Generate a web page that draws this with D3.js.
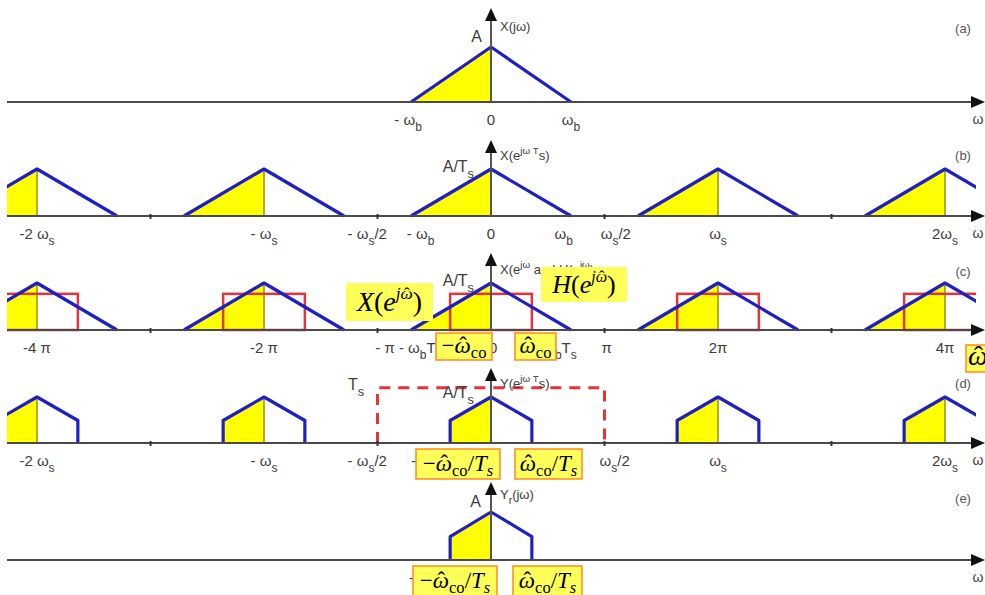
<!DOCTYPE html>
<html>
<head>
<meta charset="utf-8">
<script src="https://cdn.jsdelivr.net/npm/d3@7"></script>
<style>
  body { margin: 0; background: #fff; }
  svg { display: block; }
  text { white-space: pre; }
  .lbl { font-family: 'Liberation Sans', Arial, sans-serif; fill: #3c3c3c; }
  .math { font-family: 'Liberation Serif', 'Times New Roman', serif; fill: #000; }
</style>
</head>
<body>
<script>
var w = 985, h = 595;

// frequencies are in units of pi (normalised w-hat); w_s <-> 2 pi
var replicaCentres = [-4, -2, 0, 2, 4];
var bandEdge = 0.705;     // w_b * T_s / pi
var cutoff = 0.36;        // w_co / pi
var filterLevel = 0.77;   // height of H(e^jw) box relative to the peak
var reconLevel = 1.2;     // T_s gain of the reconstruction filter
var halfTicks = [-3, -1, 1, 3];

// tick labels per panel (value in pi units, text with _{sub})
var ticksA = [{v: -0.73, t: '- ω_{b}'}, {v: 0, t: '0'}, {v: 0.705, t: 'ω_{b}'}];
var ticksB = [{v: -4, t: '-2 ω_{s}'}, {v: -2, t: '- ω_{s}'}, {v: -1.09, t: '- ω_{s}/2'},
  {v: -0.62, t: '- ω_{b}'}, {v: 0, t: '0'}, {v: 0.64, t: 'ω_{b}'}, {v: 1.1, t: 'ω_{s}/2'},
  {v: 2, t: 'ω_{s}'}, {v: 4, t: '2ω_{s}'}];
var ticksC = [{v: -4, t: '-4 π'}, {v: -2, t: '-2 π'}, {v: -1.02, t: '- π - ω_{b}T_{s}', a: 'start'},
  {v: 0.02, t: '0'}, {v: 0.46, t: 'ω_{b}T_{s}', a: 'start'}, {v: 1.02, t: 'π'},
  {v: 2, t: '2π'}, {v: 4, t: '4π'}];
var ticksD = [{v: -4, t: '-2 ω_{s}'}, {v: -2, t: '- ω_{s}'}, {v: -1.09, t: '- ω_{s}/2'},
  {v: -0.68, t: '-'}, {v: 1.09, t: 'ω_{s}/2'}, {v: 2, t: 'ω_{s}'}, {v: 4, t: '2ω_{s}'}];
var ticksE = [{v: -0.7, t: '-'}];

// panel layout (pixels)
var panels = [
  {key: 'a', axisY: 102, top: 8,   peak: 55, ticks: ticksA, kind: 'single',
   amp: 'A', ampX: 482, ampY: 42, fn: 'X(jω)', fnY: 31, tagY: 33, omega: true},
  {key: 'b', axisY: 216, top: 140, peak: 47, ticks: ticksB, kind: 'replicas', halfTicks: true,
   amp: 'A/T_{s}', ampX: 474, ampY: 172, fn: 'X(e^{jω T}s)', fnY: 160, tagY: 160, omega: true},
  {key: 'c', axisY: 330, top: 253, peak: 47, ticks: ticksC, kind: 'filtered', halfTicks: true,
   amp: 'A/T_{s}', ampX: 474, ampY: 286, fn: 'X(e^{jω} and H(e^{jω})', fnY: 274, tagY: 276, omega: false},
  {key: 'd', axisY: 443, top: 368, peak: 46, ticks: ticksD, kind: 'cut', halfTicks: true, recon: true,
   amp: 'A/T_{s}', ampX: 474, ampY: 398, fn: 'Y(e^{jω T}s)', fnY: 388, tagY: 388, omega: true},
  {key: 'e', axisY: 560, top: 482, peak: 48, ticks: ticksE, kind: 'cutSingle',
   amp: 'A', ampX: 481, ampY: 507, fn: 'Y_{r}(jω)', fnY: 499, tagY: 503, omega: true}
];

var blue = '#1f1fc4', yellow = '#ffff00', red = '#e3343a', olive = '#9a9a10';

var x = d3.scaleLinear().domain([-4, 4]).range([37, 945]);

var svg = d3.select('body').append('svg')
  .attr('width', w).attr('height', h)
  .attr('viewBox', [0, 0, w, h]);

svg.append('defs').append('clipPath').attr('id', 'clip')
  .append('rect').attr('x', 7).attr('y', 0).attr('width', 969).attr('height', h);

var line = d3.line();

// text with _{sub} and ^{sup} parts
function rich(g, px, py, str, size, anchor, cls) {
  var t = g.append('text').attr('class', cls || 'lbl')
    .attr('x', px).attr('y', py)
    .attr('text-anchor', anchor || 'middle')
    .style('font-size', size + 'px');
  var shift = 0;
  str.split(/(_\{[^}]*\}|\^\{[^}]*\})/).forEach(function(p) {
    if (!p) return;
    var target = 0, txt = p, fs = size;
    if (p[0] === '_') { target = size * 0.4; txt = p.slice(2, -1); fs = size * 0.8; }
    else if (p[0] === '^') { target = -size * 0.45; txt = p.slice(2, -1); fs = size * 0.75; }
    t.append('tspan').attr('dy', target - shift).style('font-size', fs + 'px').text(txt);
    shift = target;
  });
  return t;
}

panels.forEach(function(p) {
  var y = d3.scaleLinear().domain([0, 1]).range([p.axisY, p.axisY - p.peak]);
  var g = svg.append('g').attr('class', 'panel-' + p.key);
  var marks = g.append('g').attr('clip-path', 'url(#clip)');

  var centres = (p.kind === 'single' || p.kind === 'cutSingle') ? [0] : replicaCentres;
  var cutH = 1 - cutoff / bandEdge;

  centres.forEach(function(c) {
    var fill, outline;
    if (p.kind === 'cut' || p.kind === 'cutSingle') {
      fill = [[c - cutoff, 0], [c - cutoff, cutH], [c, 1], [c, 0]];
      outline = [[c - cutoff, 0], [c - cutoff, cutH], [c, 1], [c + cutoff, cutH], [c + cutoff, 0]];
    } else {
      fill = [[c - bandEdge, 0], [c, 1], [c, 0]];
      outline = [[c - bandEdge, 0], [c, 1], [c + bandEdge, 0]];
    }
    var toPx = function(d) { return [x(d[0]), y(d[1])]; };

    marks.append('path')
      .attr('d', line(fill.map(toPx)) + 'Z')
      .attr('fill', yellow);

    marks.append('line')
      .attr('x1', x(c)).attr('x2', x(c))
      .attr('y1', y(0)).attr('y2', y(1))
      .attr('stroke', olive).attr('stroke-width', 1.6);

    if (p.kind === 'filtered') {
      marks.append('rect')
        .attr('x', x(c - cutoff)).attr('y', y(filterLevel))
        .attr('width', x(c + cutoff) - x(c - cutoff))
        .attr('height', y(0) - y(filterLevel))
        .attr('fill', 'none').attr('stroke', red).attr('stroke-width', 2.5);
    }

    marks.append('path')
      .attr('d', line(outline.map(toPx)))
      .attr('fill', 'none').attr('stroke', blue)
      .attr('stroke-width', 3.2).attr('stroke-linejoin', 'round');
  });

  // reconstruction filter (dashed)
  if (p.recon) {
    g.append('path')
      .attr('d', line([[x(-1), y(0)], [x(-1), y(reconLevel)], [x(1), y(reconLevel)], [x(1), y(0)]]))
      .attr('fill', 'none').attr('stroke', red)
      .attr('stroke-width', 3).attr('stroke-dasharray', '11,8');
    rich(g, 356, 390, 'T_{s}', 16, 'middle');
  }

  // horizontal axis with arrow
  g.append('line')
    .attr('x1', 7).attr('x2', 975)
    .attr('y1', p.axisY).attr('y2', p.axisY)
    .attr('stroke', '#4a4a4a').attr('stroke-width', 2);
  g.append('path')
    .attr('d', line([[971, p.axisY - 6], [985, p.axisY], [971, p.axisY + 6]]) + 'Z')
    .attr('fill', '#111');

  if (p.halfTicks) {
    g.selectAll('.ht').data(halfTicks).enter().append('line')
      .attr('x1', function(d) { return x(d); }).attr('x2', function(d) { return x(d); })
      .attr('y1', p.axisY - 2).attr('y2', p.axisY + 3)
      .attr('stroke', '#333').attr('stroke-width', 2);
  }

  // vertical axis with arrow
  g.append('line')
    .attr('x1', x(0)).attr('x2', x(0))
    .attr('y1', p.axisY).attr('y2', p.top + 10)
    .attr('stroke', '#555').attr('stroke-width', 2);
  g.append('path')
    .attr('d', line([[x(0) - 6, p.top + 13], [x(0), p.top], [x(0) + 6, p.top + 13]]) + 'Z')
    .attr('fill', '#111');

  // labels
  p.ticks.forEach(function(d) {
    rich(g, x(d.v), p.axisY + 23, d.t, 15, d.a || 'middle');
  });
  rich(g, p.ampX, p.ampY, p.amp, 16, 'end');
  rich(g, 500, p.fnY, p.fn, 13, 'start');
  g.append('text').attr('class', 'lbl')
    .attr('x', 963).attr('y', p.tagY)
    .attr('text-anchor', 'middle')
    .style('font-size', '13px').style('fill', '#555')
    .text('(' + p.key + ')');
  if (p.omega) {
    g.append('text').attr('class', 'lbl')
      .attr('x', 978).attr('y', p.axisY + 22)
      .attr('text-anchor', 'middle')
      .style('font-size', '14px')
      .text('ω');
  }
});

// math call-out boxes (yellow), pixel layout; 'w' = omega with a hat
var boxes = [
  {x: 346, y: 283, w: 87, h: 38, size: 28, border: false,
   segs: [['X', 'i'], ['(', 'r'], ['e', 'i'], ['j', 'sup'], ['w', 'sup'], [')', 'r']]},
  {x: 541, y: 267, w: 86, h: 35, size: 26, border: false,
   segs: [['H', 'i'], ['(', 'r'], ['e', 'i'], ['j', 'sup'], ['w', 'sup'], [')', 'r']]},
  {x: 436, y: 333, w: 56, h: 27, size: 23, border: true,
   segs: [['−', 'r'], ['w', 'i'], ['co', 'sub']]},
  {x: 515, y: 333, w: 41, h: 27, size: 23, border: true,
   segs: [['w', 'i'], ['co', 'sub']]},
  {x: 966, y: 345, w: 30, h: 27, size: 28, border: true, anchor: 'start',
   segs: [['w', 'i']]},
  {x: 416, y: 449, w: 84, h: 30, size: 23, border: true,
   segs: [['−', 'r'], ['w', 'i'], ['co', 'sub'], ['/', 'r'], ['T', 'i'], ['s', 'subi']]},
  {x: 515, y: 449, w: 67, h: 30, size: 23, border: true,
   segs: [['w', 'i'], ['co', 'sub'], ['/', 'r'], ['T', 'i'], ['s', 'subi']]},
  {x: 413, y: 566, w: 84, h: 30, size: 23, border: true,
   segs: [['−', 'r'], ['w', 'i'], ['co', 'sub'], ['/', 'r'], ['T', 'i'], ['s', 'subi']]},
  {x: 513, y: 566, w: 69, h: 30, size: 23, border: true,
   segs: [['w', 'i'], ['co', 'sub'], ['/', 'r'], ['T', 'i'], ['s', 'subi']]}
];

var callouts = svg.append('g').attr('class', 'callouts');
boxes.forEach(function(b) {
  callouts.append('rect')
    .attr('x', b.x).attr('y', b.y).attr('width', b.w).attr('height', b.h)
    .attr('fill', '#ffff5a')
    .attr('stroke', b.border ? '#ff8a1c' : 'none').attr('stroke-width', 1.5);
  var t = callouts.append('text').attr('class', 'math')
    .attr('x', b.anchor === 'start' ? b.x + 2 : b.x + b.w / 2)
    .attr('y', b.y + b.h * 0.74)
    .attr('text-anchor', b.anchor || 'middle')
    .style('font-size', b.size + 'px');
  var shift = 0, pendingDx = 0;
  b.segs.forEach(function(s) {
    var target = 0, fs = b.size, italic = true;
    if (s[1] === 'r') italic = false;
    if (s[1] === 'sup') { target = -b.size * 0.42; fs = b.size * 0.62; }
    if (s[1] === 'sub') { target = b.size * 0.2; fs = b.size * 0.72; italic = false; }
    if (s[1] === 'subi') { target = b.size * 0.2; fs = b.size * 0.72; }
    var txt = s[0] === 'w' ? 'ω' : s[0];
    t.append('tspan')
      .attr('dy', target - shift)
      .attr('dx', pendingDx)
      .style('font-size', fs + 'px')
      .style('font-style', italic ? 'italic' : 'normal')
      .text(txt);
    pendingDx = 0;
    if (s[0] === 'w') {
      // hat over the omega, placed back over the previous glyph
      t.append('tspan')
        .attr('dx', -fs * 0.5)
        .style('font-size', fs + 'px')
        .style('font-style', 'normal')
        .text('ˆ');
      pendingDx = fs * 0.17;
    }
    shift = target;
  });
});
</script>
</body>
</html>
